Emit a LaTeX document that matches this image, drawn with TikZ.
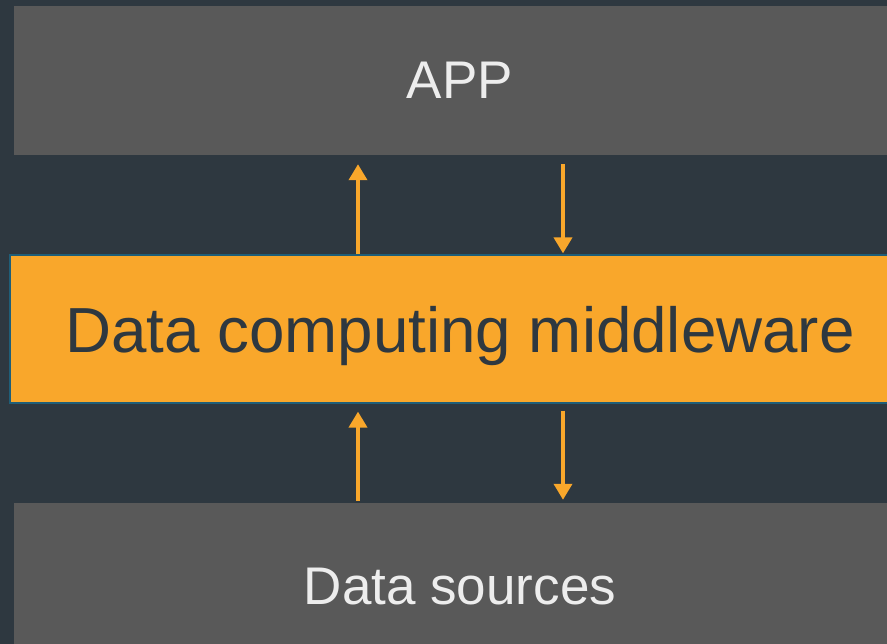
\documentclass[tikz,border=0pt]{standalone}
\usepackage{fontspec}
\setmainfont{Liberation Sans}
\usetikzlibrary{arrows.meta}
\definecolor{bg}{HTML}{2E3840}
\definecolor{boxgray}{HTML}{595959}
\definecolor{orng}{HTML}{F9A72B}
\definecolor{edge}{HTML}{1F5E78}
\definecolor{lighttxt}{HTML}{EDEDED}
\tikzset{
  graybox/.style={rectangle, fill=boxgray, draw=none, inner sep=0pt, text=lighttxt, font=\fontsize{53}{58}\selectfont},
  midbox/.style={rectangle, fill=orng, draw=edge, line width=1.2pt, inner sep=0pt, text=bg, font=\fontsize{63.7}{68}\selectfont},
  flow/.style={draw=orng, line width=3.6pt, -{Triangle[width=18pt,length=16pt]}},
}
\begin{document}
\begin{tikzpicture}[x=1pt,y=-1pt]
\fill[bg] (0,0) rectangle (887,644);
\useasboundingbox (0,0) rectangle (887,644);
\clip (0,0) rectangle (887,644);
\node[graybox, minimum width=892pt, minimum height=149pt] (app) at (460,80.5) {APP};
\node[midbox, minimum width=900pt, minimum height=148pt] (mw) at (460,329) {};
\node[text=bg, font=\fontsize{63.7}{68}\selectfont, inner sep=0pt] (mwlabel) at (460,336) {Data computing middleware};
\node[graybox, minimum width=892pt, minimum height=168pt] (ds) at (460,587) {Data sources};
\coordinate (left) at (358,0);
\coordinate (right) at (563,0);
\draw[flow, shorten >=9pt] (mw.north -| left) -- (app.south -| left);
\draw[flow, shorten <=9pt, shorten >=1pt] (app.south -| right) -- (mw.north -| right);
\draw[flow, shorten <=2pt, shorten >=8pt] (ds.north -| left) -- (mw.south -| left);
\draw[flow, shorten <=7pt, shorten >=3pt] (mw.south -| right) -- (ds.north -| right);
\end{tikzpicture}
\end{document}
